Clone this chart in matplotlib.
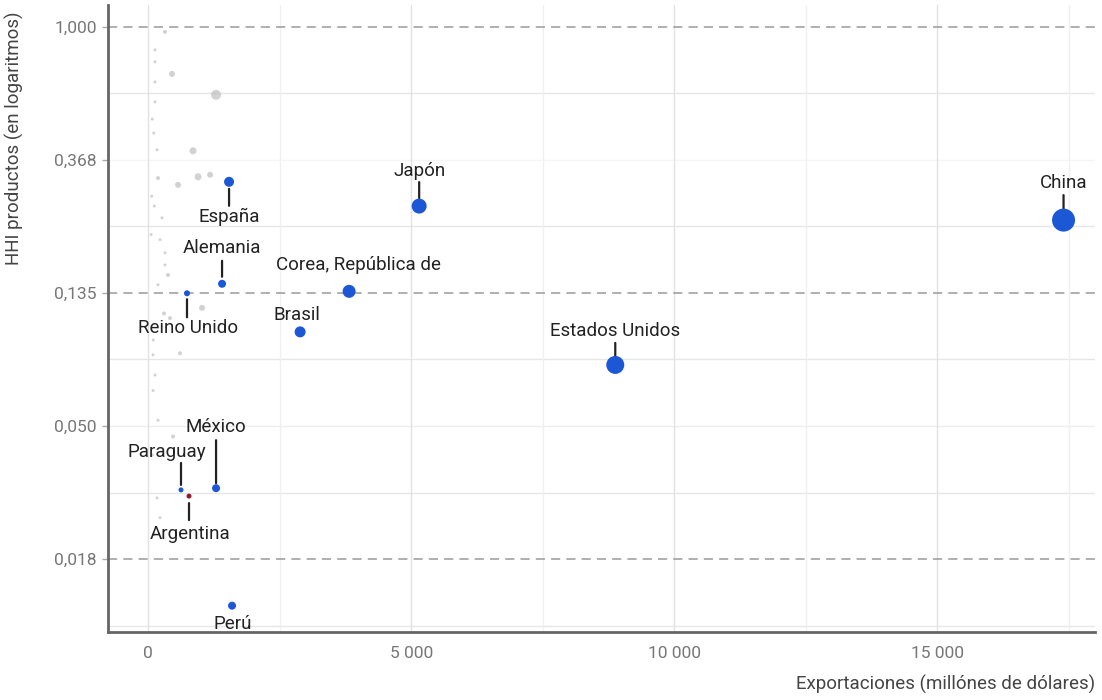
import numpy as np
import matplotlib
matplotlib.use("Agg")
import matplotlib.pyplot as plt
from matplotlib.ticker import FixedLocator, NullFormatter

plt.rcParams['font.family'] = ['Roboto', 'DejaVu Sans']

# --- highlighted countries ---------------------------------------------------
countries = ["China", "Estados Unidos", "Japón", "Corea, República de", "Brasil",
             "España", "Alemania", "Reino Unido", "México", "Paraguay",
             "Argentina", "Perú"]
exports = [17395, 8878, 5152, 3821, 2890, 1540, 1407, 741, 1293, 627, 779, 1597]
hhi = [0.234, 0.0788, 0.260, 0.137, 0.101, 0.312, 0.145, 0.135, 0.0312,
       0.0308, 0.0294, 0.0129]

# --- other countries (grey background dots) ----------------------------------
other_exports = [323, 133, 133, 456, 133, 1293, 133, 856, 171, 570, 951, 1179,
                 190, 266, 228, 323, 323, 380, 190, 304, 418, 1027, 608, 95,
                 133, 95, 190, 475, 171, 228, 80, 110, 70, 120, 60, 100, 85, 115]
other_hhi = [0.963, 0.841, 0.769, 0.702, 0.661, 0.600, 0.569, 0.394, 0.397,
             0.305, 0.324, 0.329, 0.321, 0.238, 0.202, 0.183, 0.167, 0.155,
             0.144, 0.116, 0.112, 0.121, 0.086, 0.085, 0.073, 0.065, 0.052,
             0.046, 0.029, 0.025, 0.50, 0.45, 0.28, 0.26, 0.21, 0.095, 0.040,
             0.022]

# tick labels
y_tick_labels = ["1,000", "0,368", "0,135", "0,050", "0,018"]
x_tick_labels = ["0", "5 000", "10 000", "15 000"]

# --- style -------------------------------------------------------------------
BLUE = "#1c58d6"
ARG_RED = "#8e1b2e"
PX = 0.72  # points per pixel at dpi 100

# marker diameters in px
diam = [23, 18, 15, 13, 11, 10, 8, 6, 8, 5, 5, 8]
other_diam = [4, 3, 3, 6, 3, 10, 3, 7, 3, 6, 7, 6, 4, 3, 3, 3, 3, 4, 3, 4, 4, 6,
              4, 3, 3, 3, 3, 4, 3, 3, 3, 3, 3, 3, 3, 3, 3, 3]

# label placement: text centre offset (dx, dy) and leader line (y0, y1), px, up = +
label_pos = {
    "China":               ((0, 37), (11, 25)),
    "Estados Unidos":      ((0, 34), (8, 22)),
    "Japón":               ((0, 35), (8, 24)),
    "Corea, República de": ((9, 26), None),
    "Brasil":              ((-3, 17), None),
    "España":              ((0, -35), (-7, -24)),
    "Alemania":            ((0, 36), (7, 23)),
    "Reino Unido":         ((1, -35), (-6, -24)),
    "México":              ((0, 61), (5, 48)),
    "Paraguay":            ((-14, 38), (5, 27)),
    "Argentina":           ((1, -38), (-7, -24)),
    "Perú":                ((1, -18), None),
}

fig = plt.figure(figsize=(11.02, 7.0), dpi=100)
ax = fig.add_axes([0.098, 0.097, 0.896, 0.896])
ax.set_yscale("log")

# grid: dashed reference lines + light half-step lines
ln_major = np.array([0, -1, -2, -3, -4])
for v in [0, -2, -4]:
    ax.axhline(np.exp(v), color="#9a9a9a", lw=1.1, ls=(0, (6, 4)), zorder=1)
for v in [-0.5, -1.5, -2.5, -3.5, -4.5]:
    ax.axhline(np.exp(v), color="#e6e6e6", lw=1.0, zorder=0)
ax.axhline(np.exp(-3), color="#ededed", lw=1.0, zorder=0)
ax.axhline(np.exp(-1), color="#f5f5f5", lw=1.0, zorder=0)
for v in [0, 5000, 10000, 15000]:
    ax.axvline(v, color="#e2e2e2", lw=1.0, zorder=0)
for v in [2500, 7500, 12500, 17500]:
    ax.axvline(v, color="#f0f0f0", lw=1.0, zorder=0)

# grey dots
ax.scatter(other_exports, other_hhi, s=(np.array(other_diam) * PX) ** 2,
           color="#b5b5b5", alpha=0.6, linewidths=0, zorder=2)

# highlighted dots
colors = [ARG_RED if c == "Argentina" else BLUE for c in countries]
ax.scatter(exports, hhi, s=(np.array(diam) * PX) ** 2, color=colors,
           linewidths=0, zorder=4)

for c, x, y in zip(countries, exports, hhi):
    (dx, dy), line = label_pos[c]
    if line is not None:
        ax.annotate("", xy=(x, y), xytext=(0, line[1] * PX),
                    textcoords="offset points",
                    arrowprops=dict(arrowstyle="-", color="#222222", lw=1.6,
                                    shrinkA=0, shrinkB=abs(line[0]) * PX),
                    zorder=3)
    ax.annotate(c, xy=(x, y), xytext=(dx * PX, dy * PX),
                textcoords="offset points", ha="center", va="center",
                fontsize=13.5, color="#222222", zorder=5)

# axes
ax.set_xlim(-760, 18000)
ax.set_ylim(np.exp(-4.549), np.exp(0.165))
ax.set_xticks([0, 5000, 10000, 15000])
ax.set_xticklabels(x_tick_labels)
ax.yaxis.set_major_locator(FixedLocator(np.exp(ln_major)))
ax.yaxis.set_minor_locator(FixedLocator([]))
ax.yaxis.set_minor_formatter(NullFormatter())
ax.set_yticklabels(y_tick_labels)

ax.tick_params(axis="x", length=0, pad=10, labelsize=12.5, labelcolor="#777777")
ax.tick_params(axis="y", length=4, width=1, color="#aaaaaa", pad=4,
               labelsize=12.5, labelcolor="#777777")

for s in ["top", "right"]:
    ax.spines[s].set_visible(False)
for s in ["left", "bottom"]:
    ax.spines[s].set_color("#666666")
    ax.spines[s].set_linewidth(2.0)

ax.set_xlabel("Exportaciones (millónes de dólares)", fontsize=13.5,
              color="#444444", loc="right", labelpad=10)
ax.set_ylabel("HHI productos (en logaritmos)", fontsize=13.5,
              color="#444444", loc="top")
ax.yaxis.set_label_coords(-0.085, 0.99)

fig.savefig("out.png", dpi=100)
